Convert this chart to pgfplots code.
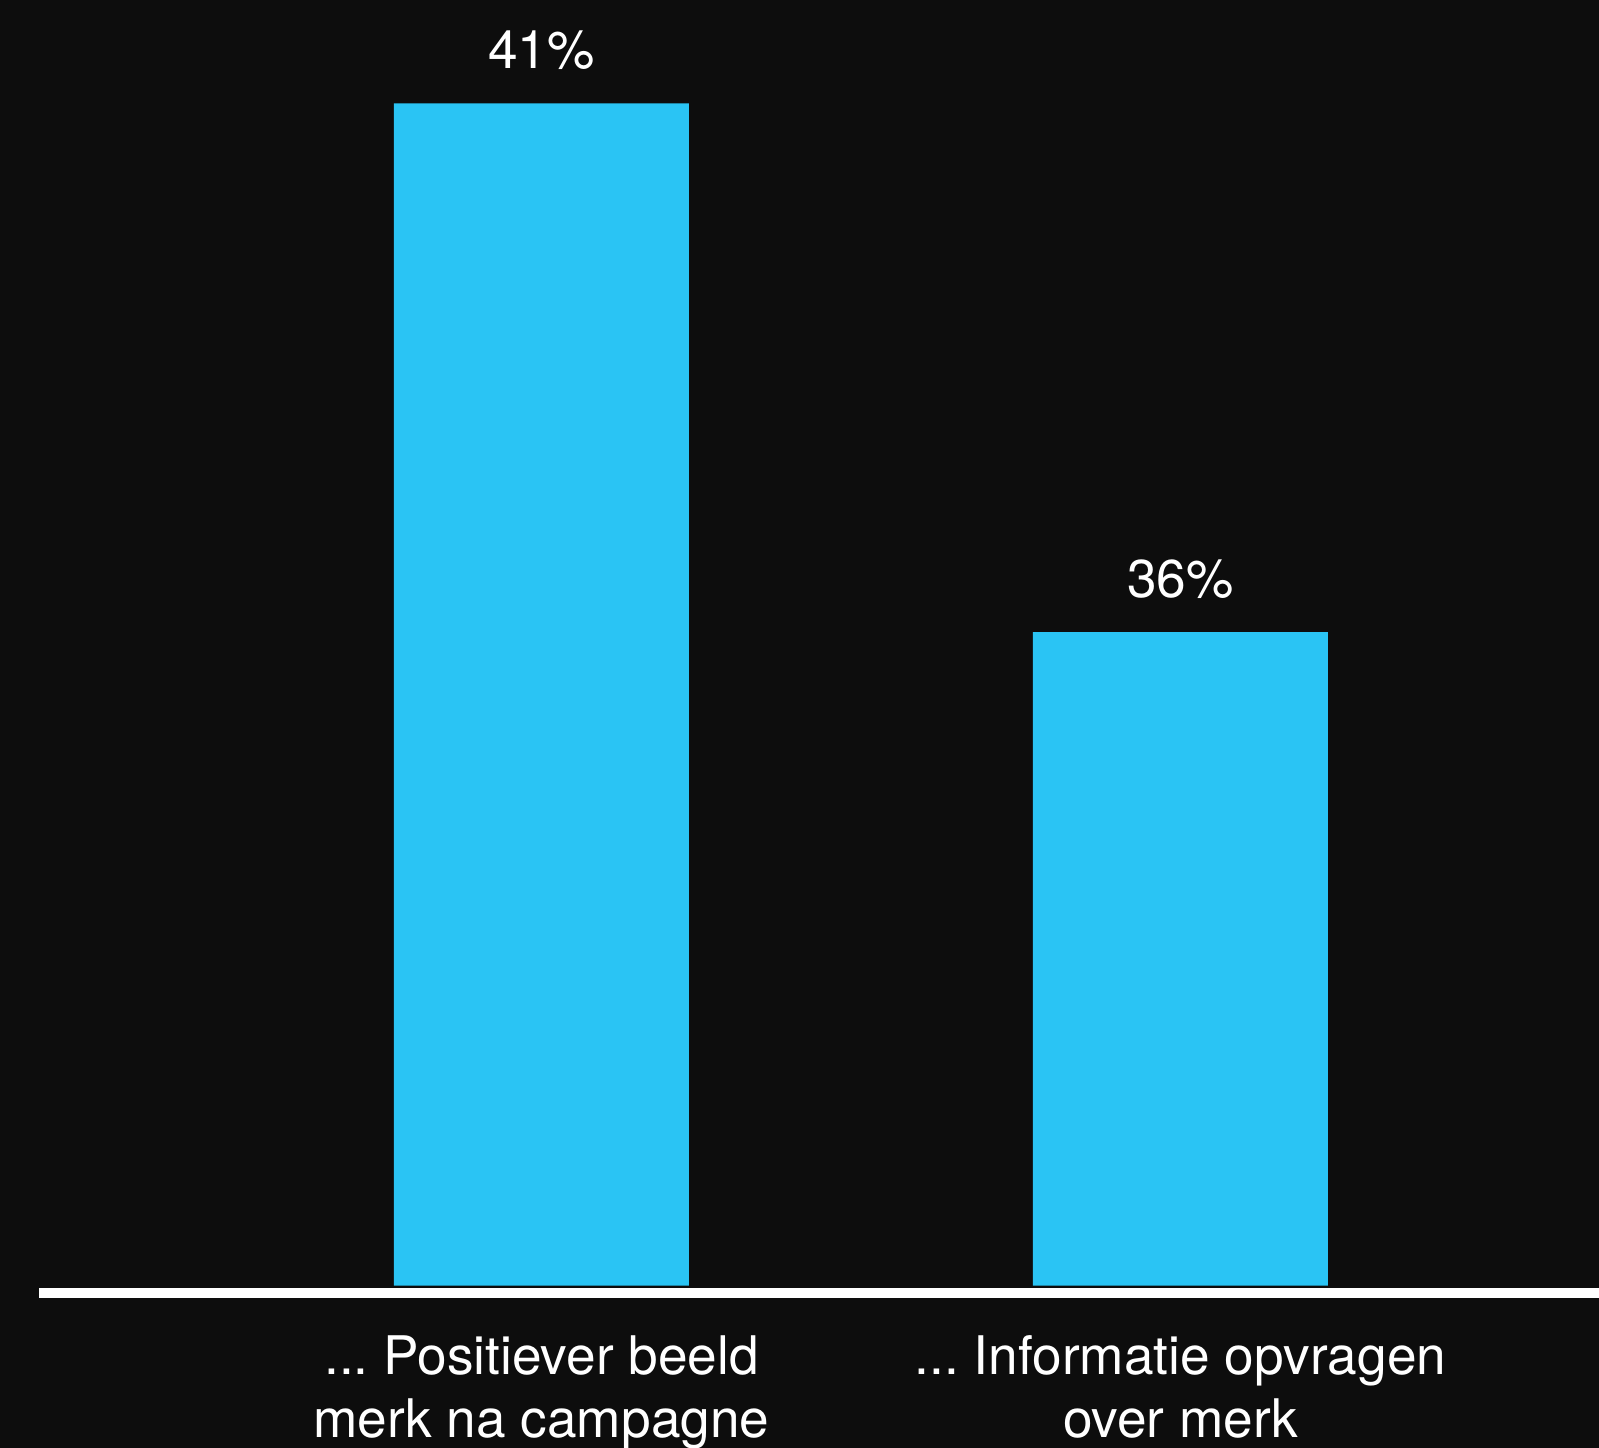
\documentclass[border=0pt]{standalone}
\usepackage{pgfplots}
\pgfplotsset{compat=1.18}
\usepackage{fontspec}
\setmainfont{TeX Gyre Heros}
\definecolor{bg}{RGB}{13,13,13}
\definecolor{barc}{RGB}{42,196,244}
\newcommand\dd{...}
\begin{document}
\begin{tikzpicture}[x=1pt,y=1pt]
\fill[bg] (-9.75,-40.575) rectangle (390,321.425);
\useasboundingbox (-9.75,-40.575) rectangle (390,321.425);
\begin{axis}[
  name=ax,
  at={(0,0)}, anchor=south west,
  scale only axis, width=390pt, height=321.425pt,
  xmin=-0.7864, xmax=1.655, ymin=29.818, ymax=41.977,
  axis line style={draw=none},
  ybar, bar width=73.75pt,
  xtick={0,1},
  xticklabels={{\dd\ Positiever beeld\\merk na campagne},{\dd\ Informatie opvragen\\over merk}},
  xtick style={draw=none},
  xticklabel style={align=center, font=\fontsize{13.3}{15.75}\selectfont, text=white, anchor=base, yshift=-33.8pt},
  ytick=\empty,
  /pgf/number format/assume math mode=true,
  nodes near coords={\pgfmathprintnumber{\pgfplotspointmeta}\%},
  every node near coord/.append style={anchor=base, yshift=8.75pt, font=\fontsize{13.3}{15.75}\selectfont, text=white},
]
\addplot[fill=barc, draw=none] coordinates {(0,41) (1,36)};
\end{axis}
\draw[white, line width=2.5pt] ([yshift=-1.83pt]ax.south west) -- ([yshift=-1.83pt]ax.south east);
\end{tikzpicture}
\end{document}
